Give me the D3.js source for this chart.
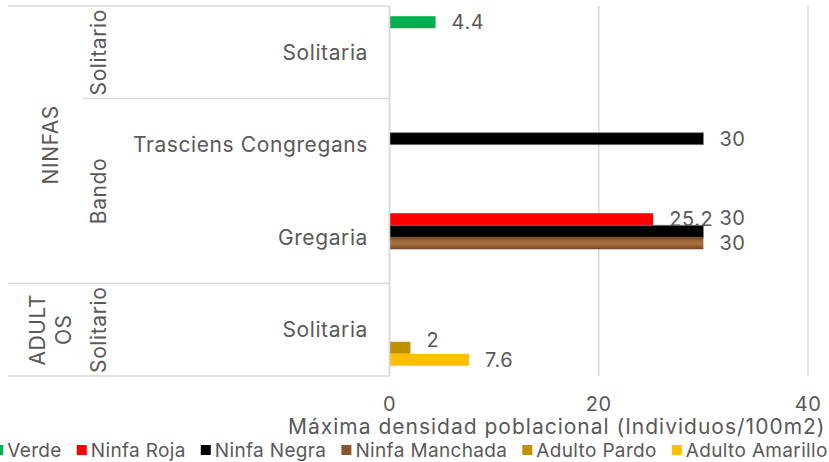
<!DOCTYPE html>
<html>
<head>
<meta charset="utf-8">
<script src="https://cdn.jsdelivr.net/npm/d3@7"></script>
<style>
  html, body { margin: 0; padding: 0; background: #fff; overflow: hidden; }
  text { font-family: Inter, "Open Sans", sans-serif; fill: #595959; letter-spacing: 0.6px; }
</style>
</head>
<body>
<svg id="chart"></svg>
<script>
// categories, innermost level first (top to bottom as drawn)
var categories = ["Solitaria", "Trasciens Congregans", "Gregaria", "Solitaria"];
var level2 = ["Solitario", "Bando", "Bando", "Solitario"];
var level3 = ["NINFAS", "NINFAS", "NINFAS", "ADULTOS"];

var seriesNames = ["Verde", "Ninfa Roja", "Ninfa Negra", "Ninfa Manchada", "Adulto Pardo", "Adulto Amarillo"];
var verde    = [4.4, null, null, null];
var roja     = [null, null, 25.2, null];
var negra    = [null, 30, 30, null];
var manchada = [null, null, 30, null];
var pardo    = [null, null, null, 2];
var amarillo = [null, null, null, 7.6];
var seriesValues = [verde, roja, negra, manchada, pardo, amarillo];

var xTicks = [0, 20, 40];
var xTitle = "Máxima densidad poblacional (Individuos/100m2)";

var width = 829, height = 462;
var colors = ["#00b050", "#ff0000", "#000000", "url(#wood)", "#bf9000", "#ffc000"];
var swatch = ["#00b050", "#ff0000", "#000000", "#8a5630", "#bf9000", "#ffc000"];

var svg = d3.select("#chart").attr("width", width).attr("height", height);

// wood-ish fill for Ninfa Manchada
var defs = svg.append("defs");
var grad = defs.append("linearGradient").attr("id", "wood")
  .attr("x1", 0).attr("y1", 0).attr("x2", 0).attr("y2", 1);
[[0, "#6b3f1e"], [0.25, "#9a6438"], [0.55, "#a8703f"], [0.8, "#8f5a30"], [1, "#6e4322"]].forEach(function(s) {
  grad.append("stop").attr("offset", s[0]).attr("stop-color", s[1]);
});

var plot = {left: 389.5, right: 808, top: 6, bottom: 376};

var x = d3.scaleLinear().domain([0, 40]).range([plot.left, plot.right]);
var y = d3.scaleBand().domain(d3.range(categories.length)).range([plot.top, plot.bottom]);
var ys = d3.scaleBand().domain(d3.range(seriesNames.length)).range([0, y.bandwidth()])
  .paddingInner(0).paddingOuter(0.85);

// gridlines
svg.append("g").selectAll("line")
  .data(xTicks)
  .enter().append("line")
    .attr("x1", function(d) { return x(d); })
    .attr("x2", function(d) { return x(d); })
    .attr("y1", plot.top).attr("y2", plot.bottom)
    .attr("stroke", "#d9d9d9").attr("stroke-width", 1.5);

// x tick labels
svg.append("g").selectAll("text")
  .data(xTicks)
  .enter().append("text")
    .attr("x", function(d) { return x(d); })
    .attr("y", 411)
    .attr("text-anchor", "middle")
    .style("font-size", "20px")
    .text(function(d) { return d; });

svg.append("text")
  .attr("x", (plot.left + plot.right) / 2 - 42)
  .attr("y", 434)
  .attr("text-anchor", "middle")
  .style("font-size", "21px")
  .style("letter-spacing", "1px")
  .text(xTitle);

// bars
var bars = [];
seriesValues.forEach(function(vals, s) {
  vals.forEach(function(v, c) {
    if (v != null) bars.push({s: s, c: c, v: v});
  });
});

svg.append("g").selectAll("rect")
  .data(bars)
  .enter().append("rect")
    .attr("x", x(0))
    .attr("y", function(d) { return y(d.c) + ys(d.s); })
    .attr("width", function(d) { return x(d.v) - x(0); })
    .attr("height", ys.bandwidth())
    .attr("fill", function(d) { return colors[d.s]; })
    .attr("stroke", function(d) { return d.s === 2 ? "#7f7f7f" : "none"; })
    .attr("stroke-width", 0.75);

// labels that were nudged by hand in the original
var labelNudge = {"2|2": -13, "4|3": -8};

svg.append("g").selectAll("text")
  .data(bars)
  .enter().append("text")
    .attr("x", function(d) { return x(d.v) + 16; })
    .attr("y", function(d) {
      return y(d.c) + ys(d.s) + ys.bandwidth() / 2 + (labelNudge[d.s + "|" + d.c] || 0);
    })
    .attr("dy", "0.36em")
    .style("font-size", "20px")
    .text(function(d) { return d.v; });

// category axis
var axisCol = {l3: 8, l2: 83, l2Label: 98, l3Label: 50, l1Right: 368};
var gAxis = svg.append("g");

gAxis.append("line")
  .attr("x1", plot.left).attr("x2", plot.left)
  .attr("y1", plot.top).attr("y2", plot.bottom)
  .attr("stroke", "#d9d9d9").attr("stroke-width", 1.5);

function spans(arr) {
  var out = [];
  arr.forEach(function(name, i) {
    var last = out[out.length - 1];
    if (last && last.name === name) last.end = i;
    else out.push({name: name, start: i, end: i});
  });
  return out;
}

var sp3 = spans(level3);
var sp2 = [];
sp3.forEach(function(g) {
  spans(level2.slice(g.start, g.end + 1)).forEach(function(s) {
    sp2.push({name: s.name, start: s.start + g.start, end: s.end + g.start});
  });
});

// boundary lines
var bounds = [];
sp3.forEach(function(g, i) {
  if (i === 0) bounds.push({y: y(g.start), x1: axisCol.l3});
  bounds.push({y: y(g.end) + y.bandwidth(), x1: axisCol.l3});
});
sp2.forEach(function(g) {
  var yb = y(g.end) + y.bandwidth();
  if (!bounds.some(function(b) { return Math.abs(b.y - yb) < 0.5; }))
    bounds.push({y: yb, x1: axisCol.l2});
});
gAxis.selectAll(".bound")
  .data(bounds)
  .enter().append("line")
    .attr("x1", function(d) { return d.x1; })
    .attr("x2", plot.left)
    .attr("y1", function(d) { return d.y; })
    .attr("y2", function(d) { return d.y; })
    .attr("stroke", "#d9d9d9").attr("stroke-width", 1.5);

// level 1 labels
gAxis.selectAll(".l1")
  .data(categories)
  .enter().append("text")
    .attr("x", axisCol.l1Right)
    .attr("y", function(d, i) { return y(i) + y.bandwidth() / 2; })
    .attr("dy", "0.36em")
    .attr("text-anchor", "end")
    .style("font-size", "21px")
    .text(function(d) { return d; });

// level 2 labels, rotated
gAxis.selectAll(".l2")
  .data(sp2)
  .enter().append("text")
    .attr("transform", function(d) {
      var cy = (y(d.start) + y(d.end) + y.bandwidth()) / 2;
      return "translate(" + axisCol.l2Label + "," + cy + ") rotate(-90)";
    })
    .attr("dy", "0.36em")
    .attr("text-anchor", "middle")
    .style("font-size", "21px")
    .text(function(d) { return d.name; });

// level 3 labels, rotated, broken by characters when too long
gAxis.selectAll(".l3")
  .data(sp3)
  .enter().append("text")
    .attr("transform", function(d) {
      var cy = (y(d.start) + y(d.end) + y.bandwidth()) / 2;
      return "translate(" + axisCol.l3Label + "," + cy + ") rotate(-90)";
    })
    .attr("text-anchor", "middle")
    .style("font-size", "21px")
    .each(function(d) {
      var t = d3.select(this);
      var maxLen = (y(d.end) + y.bandwidth() - y(d.start)) - 12;
      var lines = [], cur = "";
      var probe = t.append("tspan");
      d.name.split("").forEach(function(ch) {
        probe.text(cur + ch);
        if (cur && probe.node().getComputedTextLength() > maxLen) {
          lines.push(cur);
          cur = ch;
        } else {
          cur += ch;
        }
      });
      lines.push(cur);
      probe.remove();
      var lh = 26;
      lines.forEach(function(line, i) {
        t.append("tspan")
          .attr("x", 0)
          .attr("y", (i - (lines.length - 1) / 2) * lh)
          .attr("dy", "0.36em")
          .text(line);
      });
    });

// legend, centred on the page and allowed to run off the edges
var legend = svg.append("g");
var items = legend.selectAll("g")
  .data(seriesNames)
  .enter().append("g");
items.append("rect")
  .attr("width", 10).attr("height", 10)
  .attr("y", 445)
  .attr("fill", function(d, i) { return swatch[i]; });
items.append("text")
  .attr("x", 14)
  .attr("y", 450)
  .attr("dy", "0.36em")
  .style("font-size", "19px")
  .style("letter-spacing", "0.35px")
  .text(function(d) { return d; });

var pos = 0;
items.each(function() {
  var g = d3.select(this);
  g.attr("transform", "translate(" + pos + ",0)");
  pos += 14 + g.select("text").node().getComputedTextLength() + 15;
});
var total = pos - 15;
legend.attr("transform", "translate(" + (width / 2 - total / 2 - 4) + ",0)");
</script>
</body>
</html>
